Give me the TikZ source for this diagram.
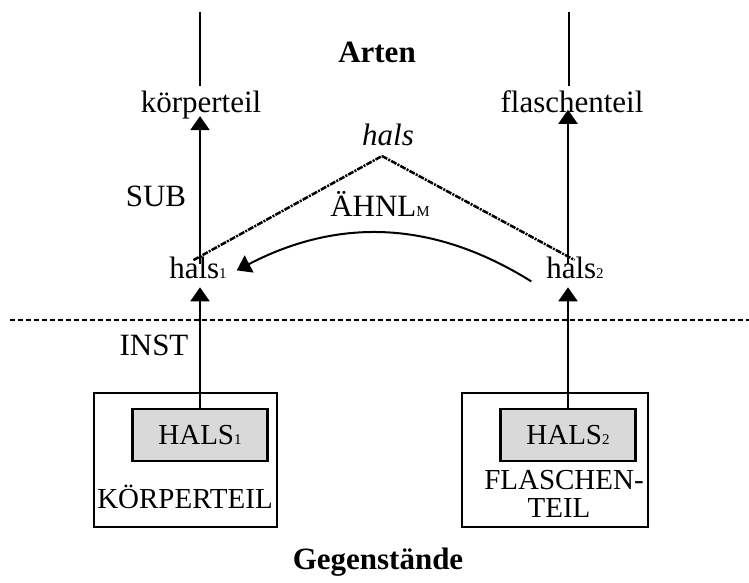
\documentclass[tikz,border=0pt]{standalone}
\usepackage{fontspec}
\setmainfont{Liberation Serif}
\usetikzlibrary{arrows.meta}
\definecolor{boxgray}{RGB}{217,217,217}
\newcommand\smallidx[1]{{\fontsize{15}{15}\selectfont #1}}
\newcommand\bigtxt{\fontsize{31}{35}\selectfont}
\newcommand\boxtxt{\fontsize{29}{33}\selectfont}
\tikzset{
  txt/.style={inner sep=0pt, outer sep=0pt, font=\bigtxt},
  ln/.style={line width=2.2pt},
  arr/.style={line width=2.2pt, -{Triangle[length=14pt,width=19pt]}},
  dotl/.style={line width=2.5pt, dash pattern=on 6pt off 1.2pt on 2pt off 1.2pt},
  sepline/.style={line width=1.8pt, dash pattern=on 5pt off 3pt},
  outerbox/.style={draw, line width=2.2pt, minimum width=183pt, minimum height=134pt, inner sep=0pt},
  graybox/.style={draw, line width=2.2pt, fill=boxgray, minimum width=135pt, minimum height=52pt, inner sep=0pt, font=\boxtxt}
}
\begin{document}
\begin{tikzpicture}[x=1pt,y=-1pt]
\useasboundingbox (0,0) rectangle (749,583);
% texts
\node[txt,anchor=base,font=\bigtxt\bfseries] (arten) at (377,63) {Arten};
\node[txt,anchor=base] (koerper) at (201,113) {körperteil};
\node[txt,anchor=base] (flasche) at (572,113) {flaschenteil};
\node[txt,anchor=base,font=\bigtxt\itshape] (hals) at (388,145) {hals};
\node[txt,anchor=base] (sub) at (156,206) {SUB};
\node[txt,anchor=base] (aehnl) at (380,216) {ÄHNL\smallidx{M}};
\node[txt,anchor=base] (hals1) at (198,278) {hals\smallidx{1}};
\node[txt,anchor=base] (hals2) at (575,278) {hals\smallidx{2}};
\node[txt,anchor=base] (inst) at (154,355) {INST};
\node[txt,anchor=base,font=\bigtxt\bfseries] (gegen) at (378,569) {Gegenstände};
% boxes
\node[outerbox] (boxL) at (185.5,460) {};
\node[outerbox, minimum width=186pt] (boxR) at (555,460) {};
\node[graybox] (g1) at (200,435) {HALS\smallidx{1}};
\node[graybox] (g2) at (568,435) {HALS\smallidx{2}};
\node[txt,anchor=base,font=\boxtxt] (kt) at (185,508) {KÖRPERTEIL};
\node[txt,anchor=base,font=\boxtxt] (fl1) at (564,489) {FLASCHEN-};
\node[txt,anchor=base,font=\boxtxt] (fl2) at (559,517) {TEIL};
% free ends
\coordinate (topL) at (200,12);
\coordinate (topR) at (569,12);
\coordinate (peak) at (382,156);
\coordinate (sepL) at (10,320);
\coordinate (sepR) at (749,320);
% top lines
\draw[ln, shorten >=5pt] (topL) -- (topL |- koerper.north);
\draw[ln, shorten >=5pt] (topR) -- (topR |- flasche.north);
% SUB arrows
\draw[arr, shorten <=-7.5pt, shorten >=-3.5pt] (hals1.north -| g1.north) -- (koerper.south -| g1.north);
\draw[arr, shorten <=-7.5pt, shorten >=-3.5pt] (hals2.north -| g2.north) -- (flasche.south -| g2.north);
% INST arrows
\draw[arr, shorten >=9pt] (g1.north) -- (hals1.south -| g1.north);
\draw[arr, shorten >=9pt] (g2.north) -- (hals2.south -| g2.north);
% dotted hals
\draw[dotl, shorten <=-7.5pt] (hals1.north -| g1.north) -- (peak);
\draw[dotl, shorten >=-7.5pt] (peak) -- (hals2.north -| g2.north);
% similarity arrow
\draw[arr, line width=2pt] ([xshift=-15pt,yshift=-14pt]hals2.west) .. controls (425,215) and (330,222) .. ([xshift=10pt,yshift=-3pt]hals1.east);
% separator
\draw[sepline] (sepL) -- (sepR);
\end{tikzpicture}
\end{document}
